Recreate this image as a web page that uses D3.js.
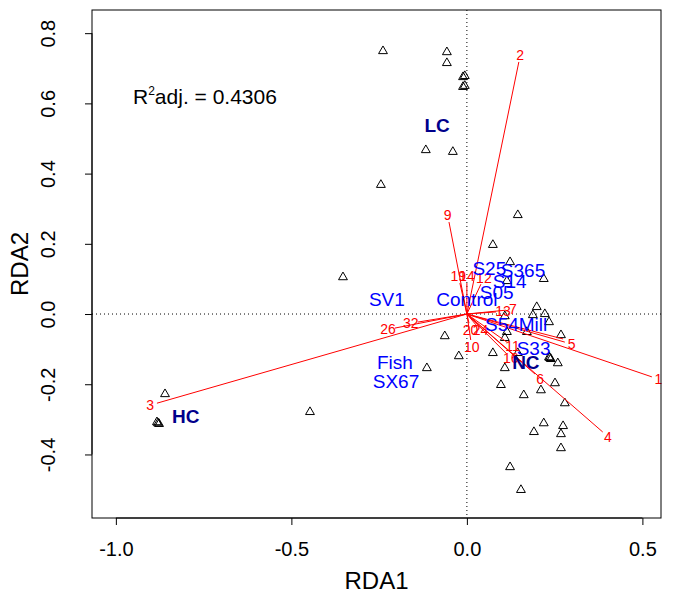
<!DOCTYPE html>
<html><head><meta charset="utf-8">
<script src="https://cdn.jsdelivr.net/npm/d3@7"></script>
<style>body{margin:0;background:#fff}svg{display:block}text{font-family:"Liberation Sans",Arial,Helvetica,sans-serif}</style>
</head><body><svg id="c" width="678" height="598"></svg>
<script>
// Site scores (RDA1, RDA2)
const siteX = [-0.239,-0.057,-0.057,-0.011,-0.006,-0.011,-0.006,-0.117,-0.040,-0.245,0.145,0.074,0.123,0.114,0.219,-0.353,0.199,0.188,0.222,0.234,0.108,0.268,0.114,0.171,0.108,0.074,0.145,0.236,0.234,0.239,0.259,0.108,0.097,0.251,0.211,0.162,0.279,0.219,0.191,0.274,0.268,0.268,0.123,0.154,-0.063,-0.023,-0.114,-0.860,-0.880,-0.883,-0.877,-0.447];
const siteY = [0.749,0.746,0.715,0.675,0.678,0.647,0.650,0.467,0.462,0.368,0.282,0.197,0.148,0.094,0.100,0.105,0.020,-0.003,0.000,-0.023,-0.006,-0.060,-0.051,-0.051,-0.068,-0.111,-0.111,-0.125,-0.123,-0.128,-0.140,-0.154,-0.202,-0.197,-0.217,-0.231,-0.254,-0.311,-0.336,-0.319,-0.342,-0.382,-0.436,-0.501,-0.063,-0.120,-0.154,-0.228,-0.311,-0.308,-0.313,-0.279];

// Biplot arrows (environmental variables)
const arrowNames = ["1","2","3","4","5","","6","9","26","32","19","14","12","13","7","10","11","16","24","20"];
const arrowX = [0.527,0.148,-0.883,0.387,0.279,0.274,0.194,-0.051,-0.205,-0.140,-0.020,0.000,0.040,0.083,0.111,0.011,0.114,0.111,0.026,0.006];
const arrowY = [-0.179,0.718,-0.254,-0.336,-0.080,-0.071,-0.171,0.262,-0.040,-0.023,0.088,0.088,0.085,0.006,0.011,-0.074,-0.080,-0.111,-0.031,-0.026];

// Factor centroids
const centNames = ["S25","S365","S14","S05","Control","SV1","Fish","SX67","S54","Mill","S33"];
const centX = [0.064,0.160,0.122,0.085,0.000,-0.228,-0.205,-0.202,0.100,0.188,0.190];
const centY = [0.130,0.125,0.094,0.060,0.040,0.040,-0.137,-0.191,-0.031,-0.031,-0.097];
const groupNames = ["LC","HC","NC"];
const groupX = [-0.085,-0.801,0.168];
const groupY = [0.538,-0.293,-0.137];

const xTicks = [-1.0,-0.5,0.0,0.5];
const yTicks = [-0.4,-0.2,0.0,0.2,0.4,0.6,0.8];
const r2Label = "0.4306";

const svg = d3.select("#c");
const L=92,R=661,T=10,B=518;
const x = d3.scaleLinear().domain([-1.068,0.553]).range([L,R]);
const y = d3.scaleLinear().domain([-0.581,0.866]).range([B,T]);
const fmt = d => d.toFixed(1);

// zero lines
svg.append("line").attr("x1",x(0)).attr("x2",x(0)).attr("y1",T).attr("y2",B)
  .attr("stroke","#000").attr("stroke-dasharray","1,3");
svg.append("line").attr("x1",L).attr("x2",R).attr("y1",y(0)).attr("y2",y(0))
  .attr("stroke","#000").attr("stroke-dasharray","1,3");

// sites
const tri = d3.symbol().type(d3.symbolTriangle).size(34);
svg.append("g").selectAll("path").data(siteX.map((v,i)=>[v,siteY[i]])).join("path")
  .attr("d",tri).attr("transform",d=>`translate(${x(d[0])},${y(d[1])})`)
  .attr("fill","none").attr("stroke","#000").attr("stroke-width",1);

// arrows
const arr = arrowX.map((v,i)=>({n:arrowNames[i],x:v,y:arrowY[i]}));
svg.append("g").selectAll("line").data(arr).join("line")
  .attr("x1",x(0)).attr("y1",y(0)).attr("x2",d=>x(d.x)).attr("y2",d=>y(d.y))
  .attr("stroke","red").attr("stroke-width",1);
svg.append("g").selectAll("text").data(arr.filter(d=>d.n)).join("text")
  .attr("x",d=>{const dx=x(d.x)-x(0),dy=y(d.y)-y(0),l=Math.hypot(dx,dy);return x(d.x)+7*dx/l;})
  .attr("y",d=>{const dx=x(d.x)-x(0),dy=y(d.y)-y(0),l=Math.hypot(dx,dy);return y(d.y)+7*dy/l;})
  .attr("text-anchor","middle").attr("dominant-baseline","central")
  .attr("fill","red").attr("font-size",14).text(d=>d.n);

// centroids
svg.append("g").selectAll("text").data(centNames.map((n,i)=>({n,x:centX[i],y:centY[i]}))).join("text")
  .attr("x",d=>x(d.x)).attr("y",d=>y(d.y)).attr("text-anchor","middle").attr("dominant-baseline","central")
  .attr("fill","#0000ff").attr("font-size",19).text(d=>d.n);
svg.append("g").selectAll("text").data(groupNames.map((n,i)=>({n,x:groupX[i],y:groupY[i]}))).join("text")
  .attr("x",d=>x(d.x)).attr("y",d=>y(d.y)).attr("text-anchor","middle").attr("dominant-baseline","central")
  .attr("fill","#00008b").attr("font-weight","bold").attr("font-size",19).text(d=>d.n);

// box
svg.append("rect").attr("x",L).attr("y",T).attr("width",R-L).attr("height",B-T)
  .attr("fill","none").attr("stroke","#000");

// axes
const xa = svg.append("g").attr("transform",`translate(0,${B})`)
  .call(d3.axisBottom(x).tickValues(xTicks).tickFormat(fmt).tickSize(7));
xa.select(".domain").attr("d",`M${x(-1)},0H${x(0.5)}`);
xa.selectAll(".tick text").attr("font-size",20).attr("font-family","Liberation Sans, Arial, sans-serif")
  .attr("y",31).attr("dy",null).attr("dominant-baseline","central");
const ya = svg.append("g").attr("transform",`translate(${L},0)`)
  .call(d3.axisLeft(y).tickValues(yTicks).tickFormat(fmt).tickSize(7));
ya.select(".domain").attr("d",`M0,${y(-0.4)}V${y(0.8)}`);
ya.selectAll(".tick text").attr("font-size",20).attr("font-family","Liberation Sans, Arial, sans-serif")
  .attr("text-anchor","middle").attr("dy",null).attr("dominant-baseline","central")
  .attr("x",0).attr("y",0).attr("transform",`translate(${48-L},0) rotate(-90)`);

// titles
svg.append("text").attr("x",(L+R)/2).attr("y",580).attr("text-anchor","middle").attr("dominant-baseline","central")
  .attr("font-size",24).text("RDA1");
svg.append("text").attr("transform",`translate(19,${(T+B)/2}) rotate(-90)`).attr("text-anchor","middle")
  .attr("dominant-baseline","central").attr("font-size",24).text("RDA2");

// R2
const r2 = svg.append("text").attr("x",133).attr("y",104).attr("font-size",21);
r2.append("tspan").text("R");
r2.append("tspan").attr("font-size",12).attr("dy",-9).text("2");
r2.append("tspan").attr("dy",9).text("adj. = " + r2Label);
</script></body></html>
